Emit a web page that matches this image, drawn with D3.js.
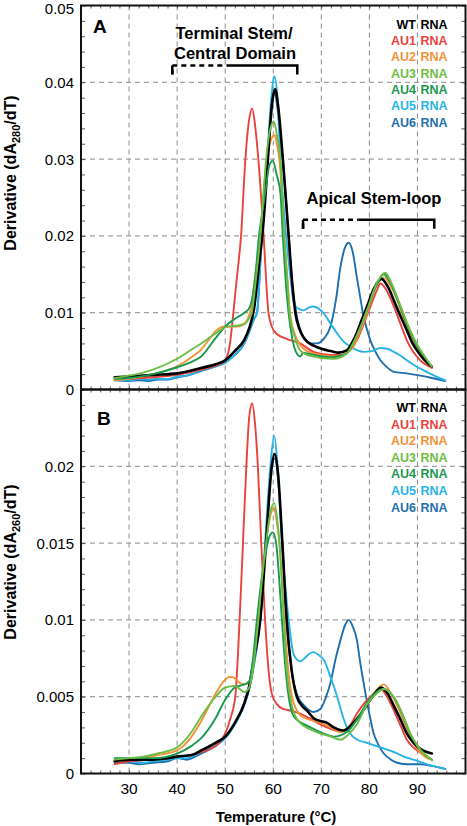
<!DOCTYPE html>
<html><head><meta charset="utf-8">
<script src="https://cdn.jsdelivr.net/npm/d3@7"></script>
<style>body{margin:0;background:#fff}svg{display:block;font-family:"Liberation Sans",Arial,Helvetica,sans-serif}</style>
</head><body><svg id="c" width="467" height="826"></svg>
<script>
// ---------- DATA ----------
const seriesNames = ["WT", "AU1", "AU2", "AU3", "AU4", "AU5", "AU6"];
const seriesColors = ["#000000", "#e8423c", "#f39237", "#6dbd45", "#1a9850", "#27b3e6", "#1f6fae"];
const xTicks = [30, 40, 50, 60, 70, 80, 90];
const yTicksA = [0, 0.01, 0.02, 0.03, 0.04, 0.05];
const yTicksB = [0, 0.005, 0.01, 0.015, 0.02];
const yTickLabelsA = ["0", "0.01", "0.02", "0.03", "0.04", "0.05"];
const yTickLabelsB = ["0", "0.005", "0.01", "0.015", "0.02"];

// Panel A (dA280/dT): [temperature °C, derivative]
const wtA = [[27,0.0016],[30,0.0017],[35,0.0019],[40,0.0021],[45,0.0028],[48,0.0033],[50,0.0038],[52,0.005],[54,0.0065],[55,0.008],[56,0.0105],[57,0.016],[58,0.022],[59,0.031],[59.7,0.037],[60.4,0.0391],[61,0.037],[62,0.030],[63.2,0.02],[64,0.0135],[64.6,0.01],[65.5,0.0078],[66.5,0.0066],[68.4,0.0057],[70,0.0053],[72,0.005],[73.6,0.0048],[75.3,0.0051],[76.5,0.0062],[77.4,0.0074],[78.5,0.0092],[79.5,0.0108],[81,0.0132],[82.5,0.0144],[84,0.0132],[85.1,0.0116],[86.5,0.0095],[87.8,0.0077],[89,0.006],[90.6,0.0045],[92,0.0035],[93,0.003]];
const au1A = [[27,0.0013],[30,0.0014],[35,0.0016],[40,0.0019],[45,0.0026],[48,0.0031],[50,0.0038],[51,0.006],[51.7,0.01],[52.5,0.015],[53.3,0.02],[54.2,0.03],[55,0.0352],[55.6,0.0366],[56.2,0.0345],[56.9,0.03],[58,0.02],[59,0.01],[59.7,0.0082],[60.8,0.0072],[62.8,0.0066],[65.6,0.006],[68.4,0.0049],[71.9,0.0045],[74.6,0.0045],[76,0.0052],[77.4,0.0064],[78.8,0.0085],[80.2,0.0108],[81.5,0.0128],[82.3,0.0138],[83.5,0.013],[85.1,0.0108],[86.5,0.0085],[87.8,0.0064],[89,0.005],[90.6,0.0038],[93,0.0028]];
const au2A = [[27,0.0012],[30,0.0014],[35,0.002],[40,0.003],[43,0.0042],[45,0.0052],[47,0.0068],[48,0.0076],[50,0.0082],[52.6,0.0082],[54,0.0086],[54.7,0.0092],[55.5,0.011],[56.3,0.015],[57.3,0.0198],[58,0.025],[58.7,0.0298],[59.5,0.0325],[60.3,0.0331],[60.8,0.0318],[61.3,0.0298],[62.3,0.0198],[63,0.014],[63.5,0.0099],[64.5,0.0072],[65.6,0.0058],[67,0.005],[68.4,0.0047],[70,0.0045],[73.3,0.0043],[75,0.0047],[76.7,0.0056],[78,0.0075],[79.5,0.0099],[81,0.0128],[83,0.0146],[84.5,0.0134],[85.8,0.0116],[87,0.0095],[88.5,0.0073],[90,0.0055],[91.3,0.0043],[93,0.0028]];
const au3A = [[27,0.0015],[30,0.0018],[35,0.0026],[40,0.004],[43,0.0052],[45,0.006],[48,0.0073],[50,0.0081],[52,0.0083],[54,0.0085],[55,0.0093],[55.5,0.0099],[56.5,0.015],[57.3,0.0198],[58,0.026],[58.5,0.0298],[59.4,0.034],[60.1,0.0349],[60.8,0.033],[61.5,0.0298],[62.3,0.0198],[63,0.0135],[63.4,0.0099],[64.5,0.0068],[65.6,0.0051],[67,0.0045],[68.4,0.0043],[70,0.0041],[72.6,0.004],[75.3,0.0047],[77,0.0065],[79.5,0.0103],[81.5,0.0138],[83.3,0.0152],[84.5,0.014],[85.8,0.012],[87.2,0.0097],[88.5,0.0077],[90,0.0058],[91.3,0.0045],[93,0.003]];
const au4A = [[27,0.0014],[30,0.0015],[35,0.002],[40,0.0029],[43,0.0036],[45,0.0043],[48,0.0067],[50,0.0082],[52,0.0092],[54,0.01],[55,0.0106],[55.5,0.0115],[56.3,0.015],[57,0.0198],[57.7,0.023],[58.3,0.0255],[59.2,0.0292],[59.9,0.0298],[60.7,0.028],[61.5,0.0255],[62,0.0198],[62.6,0.014],[63.2,0.0099],[64,0.0065],[64.8,0.0048],[65.6,0.0043],[66.3,0.0048],[67,0.0047],[68.4,0.0045],[71.9,0.0042],[75.3,0.0047],[77,0.0065],[79.5,0.0103],[81.5,0.0136],[83,0.015],[84.3,0.014],[85.8,0.0118],[87.2,0.0095],[88.5,0.0075],[90,0.0056],[91.3,0.0044],[93,0.003]];
const au5A = [[28,0.0012],[30,0.0012],[32,0.0014],[34,0.0013],[36,0.0014],[38,0.0013],[40,0.0017],[42,0.0018],[45,0.0025],[48,0.003],[50,0.0035],[52,0.0045],[54,0.006],[55,0.0075],[56,0.0092],[56.6,0.0099],[57.6,0.0198],[58.7,0.0298],[59.6,0.038],[60.2,0.0408],[60.8,0.0385],[61.5,0.0298],[62.7,0.0198],[63.5,0.015],[64.2,0.0116],[65,0.0106],[66.3,0.0103],[67.5,0.0107],[68.4,0.0108],[69.5,0.0105],[70.5,0.0099],[72,0.0085],[73.3,0.0073],[74.7,0.0062],[76,0.0056],[77.5,0.0051],[78.8,0.0049],[80.5,0.005],[82.3,0.0054],[83.7,0.0053],[85.1,0.0049],[86.5,0.0044],[87.8,0.0038],[89.5,0.0031],[91.3,0.0025],[93.5,0.0018],[95.8,0.0012]];
const au6A = [[27,0.0012],[30,0.0011],[32,0.0012],[34,0.0011],[36,0.0013],[38,0.0013],[40,0.0016],[42,0.0018],[45,0.0024],[48,0.003],[50,0.0035],[52,0.0045],[54,0.006],[55,0.0075],[56,0.0092],[56.6,0.0099],[57.6,0.0195],[58.7,0.029],[59.6,0.036],[60.3,0.0385],[61,0.036],[62,0.0298],[63.2,0.02],[64,0.0135],[64.8,0.0098],[65.6,0.0078],[66.5,0.0066],[68,0.006],[69,0.006],[70.5,0.0066],[71.9,0.0082],[73,0.0115],[74,0.016],[75,0.0186],[75.7,0.0191],[76.5,0.018],[77.4,0.0146],[78.1,0.012],[78.8,0.0095],[79.5,0.0078],[80.2,0.0064],[81.2,0.005],[82.3,0.0038],[83.5,0.003],[85.1,0.0023],[87.8,0.0021],[90.6,0.0018],[93,0.0015],[95.8,0.0011]];

// Panel B (dA260/dT)
const wtB = [[27,0.0008],[30,0.0009],[35,0.0009],[38,0.001],[40,0.0011],[43,0.0012],[45,0.0015],[48,0.002],[50,0.0024],[52,0.0033],[54,0.0046],[55,0.0057],[56,0.0075],[57.3,0.01],[58.5,0.015],[59.7,0.02],[60.3,0.0208],[61,0.0195],[61.9,0.015],[62.8,0.01],[63.8,0.0068],[64.9,0.005],[66,0.0044],[67,0.0041],[68.4,0.0036],[70,0.0034],[71.2,0.0033],[72.6,0.003],[74.6,0.0028],[76.7,0.0033],[78.5,0.004],[80.2,0.0048],[82.5,0.0056],[83.8,0.0052],[85.1,0.0044],[86.5,0.0035],[87.8,0.0026],[89.2,0.002],[90.6,0.0016],[93,0.0013]];
const au1B = [[27,0.0006],[30,0.0008],[35,0.0009],[40,0.0011],[43,0.0012],[45,0.0014],[48,0.0018],[50,0.0026],[51,0.0035],[52.1,0.005],[53,0.01],[53.7,0.015],[54.4,0.02],[55,0.0232],[55.6,0.0241],[56.2,0.0228],[56.8,0.02],[57.5,0.015],[58.3,0.01],[59,0.0068],[59.7,0.0052],[60.8,0.0045],[62,0.0042],[63.5,0.0041],[65.6,0.0039],[67.5,0.0036],[69.8,0.0032],[72,0.0029],[74,0.0027],[75.7,0.003],[77.4,0.0039],[79,0.0046],[80.9,0.0052],[82.3,0.0055],[83.5,0.0051],[85.1,0.0041],[86.5,0.0031],[87.8,0.0022],[89.5,0.0016],[92,0.0011],[93,0.0009]];
const au2B = [[27,0.0008],[30,0.0009],[33,0.001],[36,0.0012],[40,0.0015],[43,0.0024],[45,0.0034],[47,0.0046],[48,0.0052],[50,0.0061],[51,0.0063],[52,0.0062],[53,0.0059],[54,0.0058],[55,0.006],[56,0.0075],[56.9,0.01],[57.7,0.0125],[58.5,0.015],[59.4,0.0168],[60.1,0.0173],[60.7,0.0165],[61.3,0.015],[62.3,0.01],[63.1,0.0068],[63.9,0.005],[65.6,0.0038],[67.5,0.0035],[69.8,0.0033],[72,0.003],[74,0.0027],[75.7,0.003],[77.4,0.0035],[79,0.0043],[80.9,0.0052],[83,0.0058],[84.5,0.0052],[85.8,0.0044],[87.2,0.0034],[88.5,0.0024],[90,0.0016],[92,0.001],[93,0.0009]];
const au3B = [[27,0.0009],[30,0.001],[33,0.0011],[36,0.0013],[40,0.0017],[43,0.0027],[45,0.0037],[48,0.005],[50,0.0056],[52,0.0057],[53,0.0055],[54,0.0053],[55,0.0056],[56,0.0073],[56.9,0.01],[57.7,0.0128],[58.5,0.015],[59.4,0.017],[60.2,0.0176],[60.8,0.0166],[61.4,0.0145],[62.2,0.01],[62.8,0.0068],[63.5,0.005],[64.5,0.0038],[65.6,0.0033],[67.5,0.0029],[69.8,0.0026],[72,0.0024],[74,0.0022],[75.5,0.0025],[77.4,0.0032],[79.5,0.0045],[81.5,0.0052],[83,0.0055],[84.5,0.0052],[85.8,0.0046],[87.2,0.0036],[88.5,0.0026],[90,0.0018],[92,0.0011],[93,0.0009]];
const au4B = [[27,0.001],[30,0.001],[35,0.001],[40,0.0013],[43,0.0018],[45,0.0023],[48,0.0036],[50,0.0048],[52,0.0056],[54,0.0058],[55,0.006],[55.8,0.0075],[56.6,0.01],[57.5,0.0125],[58.5,0.0145],[59.3,0.0155],[59.9,0.0157],[60.6,0.015],[61.2,0.0128],[61.8,0.01],[62.5,0.007],[63.2,0.005],[64,0.0039],[64.9,0.0035],[66.5,0.0032],[68.4,0.0029],[70.5,0.0026],[72.6,0.0024],[75.3,0.0027],[77.4,0.0035],[79.5,0.0046],[81.5,0.0053],[83,0.0055],[84.5,0.0052],[85.8,0.0046],[87.2,0.0036],[88.5,0.0026],[90,0.0018],[92,0.0011],[93,0.0009]];
const au5B = [[27,0.0008],[30,0.0008],[33,0.0007],[35,0.0008],[38,0.0009],[40,0.001],[42,0.001],[45,0.0014],[48,0.0018],[50,0.0023],[52,0.0032],[54,0.0045],[55,0.0055],[56.2,0.0075],[57.3,0.01],[58.3,0.015],[59.4,0.02],[60.2,0.022],[60.9,0.02],[61.8,0.015],[62.5,0.0122],[63.2,0.01],[64.2,0.0078],[65,0.0074],[65.6,0.0073],[66.5,0.0075],[67.5,0.0078],[68.4,0.0079],[69.5,0.0077],[70.5,0.0074],[72,0.0062],[73.3,0.005],[74.6,0.0036],[76,0.0026],[77.5,0.0022],[79.5,0.002],[82.3,0.0017],[85.1,0.0014],[87.2,0.0011],[89.2,0.0009],[92,0.0006],[95.8,0.0003]];
const au6B = [[27,0.0007],[30,0.0007],[32,0.0006],[35,0.0007],[38,0.0008],[40,0.001],[42,0.0009],[45,0.0013],[48,0.0018],[50,0.0023],[52,0.0032],[54,0.0045],[55,0.0055],[56.2,0.0075],[57.3,0.01],[58.4,0.015],[59.6,0.0198],[60.3,0.0205],[61,0.0192],[61.9,0.015],[62.8,0.01],[63.8,0.0067],[65,0.0051],[66.5,0.0044],[68.4,0.004],[69.8,0.0042],[71,0.005],[71.9,0.0059],[73,0.0075],[74,0.0087],[75,0.0097],[75.7,0.01],[76.5,0.0096],[77.4,0.0087],[78.1,0.0072],[78.8,0.0059],[79.8,0.0042],[80.9,0.0026],[82,0.0018],[83,0.0013],[84.5,0.0009],[85.8,0.0007],[88,0.0006],[90.6,0.0006],[93,0.0005],[95.8,0.0003]];

const panelAData = [wtA, au1A, au2A, au3A, au4A, au5A, au6A];
const panelBData = [wtB, au1B, au2B, au3B, au4B, au5B, au6B];

// ---------- DRAW ----------
const svg = d3.select("#c");
const FONT = '"Liberation Sans", Arial, Helvetica, sans-serif';
const L = 81, R = 465.5;
const x = d3.scaleLinear().domain([20, 100]).range([L, R]);
const panels = [
  {key:"A", data:panelAData, y:d3.scaleLinear().domain([0,0.05]).range([389.5,5.5]), ticks:yTicksA, labels:yTickLabelsA, minor:0.002, sub:"280", legendY:28.7, legendStep:16.3, labelY:33, labelX:93, titleY:173},
  {key:"B", data:panelBData, y:d3.scaleLinear().domain([0,0.025]).range([773.5,389.5]), ticks:yTicksB, labels:yTickLabelsB, minor:0.001, sub:"260", legendY:412, legendStep:16.6, labelY:425, labelX:97, titleY:562}
];
const drawOrder = [6, 5, 1, 2, 0, 4, 3];

panels.forEach((p, pi) => {
  const y = p.y;
  const [yb, yt] = y.range();
  const g = svg.append("g");
  const clipId = "clip" + p.key;
  svg.append("clipPath").attr("id", clipId).append("rect")
    .attr("x", L).attr("y", yt).attr("width", R - L).attr("height", yb - yt);

  // grid
  g.append("g").selectAll("line").data(xTicks).join("line")
    .attr("x1", d => x(d)).attr("x2", d => x(d)).attr("y1", yt).attr("y2", yb)
    .attr("stroke", "#8a8a8a").attr("stroke-width", 1).attr("stroke-dasharray", "5,4");
  g.append("g").selectAll("line").data(p.ticks.filter(d => d > 0 && d < y.domain()[1])).join("line")
    .attr("x1", L).attr("x2", R).attr("y1", d => y(d)).attr("y2", d => y(d))
    .attr("stroke", "#8a8a8a").attr("stroke-width", 1).attr("stroke-dasharray", "5,4");

  // inward ticks via d3 axes
  const minorY = d3.range(0, y.domain()[1] + 1e-9, p.minor);
  const minorX = d3.range(22, 100, 2);
  const axL = d3.axisRight(y).tickValues(minorY).tickSize(4).tickFormat("");
  const axR = d3.axisLeft(y).tickValues(minorY).tickSize(4).tickFormat("");
  const axB = d3.axisTop(x).tickValues(minorX).tickSize(3).tickFormat("");
  const axT = d3.axisBottom(x).tickValues(minorX).tickSize(3).tickFormat("");
  [[axL, `translate(${L},0)`], [axR, `translate(${R},0)`], [axB, `translate(0,${yb})`], [axT, `translate(0,${yt})`]].forEach(([ax, tr]) => {
    const a = g.append("g").attr("transform", tr).call(ax);
    a.select(".domain").remove();
    a.selectAll("line").attr("stroke", "#333").attr("stroke-width", 0.8);
  });

  // y tick labels (keep top label inside the canvas)
  g.append("g").selectAll("text").data(p.ticks).join("text")
    .attr("x", 74).attr("y", d => Math.max(y(d), 9)).attr("dy", "0.36em").attr("text-anchor", "end")
    .attr("font-family", FONT).attr("font-size", 15).text((d, i) => p.labels[i]);

  // curves
  const line = d3.line().x(d => x(d[0])).y(d => y(d[1])).curve(d3.curveMonotoneX);
  const cg = g.append("g").attr("clip-path", `url(#${clipId})`);
  drawOrder.forEach(i => {
    cg.append("path").datum(p.data[i]).attr("d", line).attr("fill", "none")
      .attr("stroke", seriesColors[i]).attr("stroke-width", i === 0 ? 2.6 : 1.9)
      .attr("stroke-linejoin", "round").attr("stroke-linecap", "round");
  });

  // frame
  g.append("rect").attr("x", L).attr("y", yt).attr("width", R - L).attr("height", yb - yt)
    .attr("fill", "none").attr("stroke", "#111").attr("stroke-width", 2);

  // panel letter
  g.append("text").attr("x", p.labelX).attr("y", p.labelY).attr("font-family", FONT)
    .attr("font-weight", "bold").attr("font-size", 19).text(p.key);

  // legend
  const lg = g.append("g");
  seriesNames.forEach((n, i) => {
    const ty = p.legendY + i * p.legendStep;
    lg.append("text").attr("x", 416).attr("y", ty).attr("text-anchor", "end")
      .attr("font-family", FONT).attr("font-weight", "bold").attr("font-size", 12.5)
      .attr("fill", seriesColors[i]).text(n);
    lg.append("text").attr("x", 420.5).attr("y", ty)
      .attr("font-family", FONT).attr("font-weight", "bold").attr("font-size", 12.5)
      .attr("fill", seriesColors[i]).text("RNA");
  });

  // y-axis title
  const t = g.append("text").attr("transform", `translate(16,${p.titleY}) rotate(-90)`)
    .attr("text-anchor", "middle").attr("font-family", FONT).attr("font-weight", "bold").attr("font-size", 16);
  t.append("tspan").text("Derivative (dA");
  t.append("tspan").attr("font-size", 11).attr("dy", 4).text(p.sub);
  t.append("tspan").attr("dy", -4).text("/dT)");
});

// x tick labels
svg.append("g").selectAll("text").data(xTicks).join("text")
  .attr("x", d => x(d)).attr("y", 794).attr("text-anchor", "middle")
  .attr("font-family", FONT).attr("font-size", 15.5).text(d => d);
svg.append("text").attr("x", 276).attr("y", 822).attr("text-anchor", "middle")
  .attr("font-family", FONT).attr("font-weight", "bold").attr("font-size", 15).text("Temperature (°C)");

// annotations (panel A)
const yA = panels[0].y;
function bracket(x0, xm, x1, yv) {
  const yy = yA(yv), drop = 9;
  svg.append("path").attr("d", `M${x(x0)},${yy + drop}V${yy}H${x(xm)}`)
    .attr("fill", "none").attr("stroke", "#000").attr("stroke-width", 2.5).attr("stroke-dasharray", "5,4");
  svg.append("path").attr("d", `M${x(x0)},${yy + drop}V${yy}`).attr("stroke", "#000").attr("stroke-width", 2.5);
  svg.append("path").attr("d", `M${x(xm)},${yy}H${x(x1)}V${yy + drop}`)
    .attr("fill", "none").attr("stroke", "#000").attr("stroke-width", 2.5);
}
bracket(39, 50.3, 65, 0.0422);
bracket(66.2, 77.7, 93.5, 0.0221);
svg.append("text").attr("x", 234).attr("y", 38.5).attr("text-anchor", "middle").attr("font-family", FONT)
  .attr("font-weight", "bold").attr("font-size", 16.5).text("Terminal Stem/");
svg.append("text").attr("x", 235).attr("y", 58.5).attr("text-anchor", "middle").attr("font-family", FONT)
  .attr("font-weight", "bold").attr("font-size", 16.5).text("Central Domain");
svg.append("text").attr("x", 374).attr("y", 204).attr("text-anchor", "middle").attr("font-family", FONT)
  .attr("font-weight", "bold").attr("font-size", 16.5).text("Apical Stem-loop");
</script></body></html>
